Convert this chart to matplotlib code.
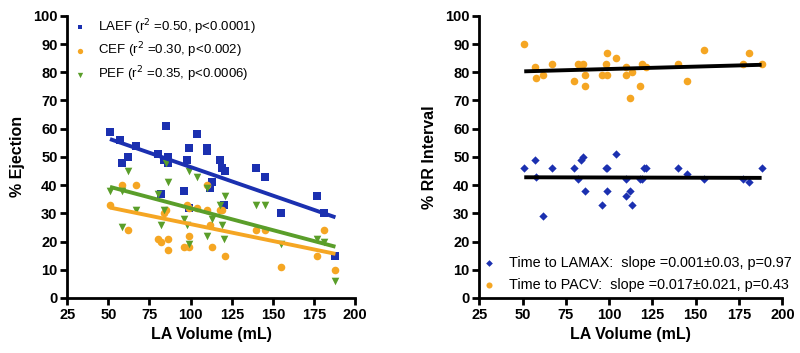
import numpy as np
import matplotlib
matplotlib.use("Agg")
import matplotlib.pyplot as plt

plt.rcParams['font.family'] = ['Liberation Sans', 'DejaVu Sans']

# Left panel data
laef_x = [51, 57, 58, 62, 67, 80, 85, 84, 86, 86, 98, 99, 104, 110, 110, 118, 119, 121, 140, 145,
          82, 96, 99, 113, 112, 120, 155, 177, 181, 188]
laef_y = [59, 56, 48, 50, 54, 51, 61, 49, 50, 48, 49, 53, 58, 53, 52, 49, 46, 45, 46, 43,
          37, 38, 32, 41, 39, 33, 30, 36, 30, 15]
cef_x = [51, 58, 62, 67, 80, 82, 86, 86, 84, 85, 98, 99, 99, 96, 99, 104, 110, 110, 112, 113,
         118, 119, 121, 140, 145, 155, 177, 181, 188]
cef_y = [33, 40, 24, 40, 21, 20, 21, 17, 30, 31, 33, 32, 22, 18, 18, 32, 31, 40, 26, 18,
         31, 31, 15, 24, 24, 11, 15, 24, 10]
pef_x = [51, 58, 62, 67, 58, 80, 82, 84, 85, 86, 96, 98, 99, 99, 104, 110, 110, 113, 118, 119,
         120, 121, 140, 145, 155, 177, 181, 188]
pef_y = [38, 38, 45, 31, 25, 37, 26, 31, 48, 41, 28, 26, 45, 19, 43, 39, 22, 28, 33, 26,
         21, 36, 33, 33, 19, 21, 20, 6]

# Right panel data
lamax_x = [51, 57, 58, 67, 80, 82, 84, 85, 86, 96, 98, 99, 99, 104, 110, 110, 112, 113, 62,
           118, 119, 120, 121, 140, 145, 155, 177, 181, 188]
lamax_y = [46, 49, 43, 46, 46, 42, 49, 50, 38, 33, 46, 46, 38, 51, 42, 36, 38, 33, 29,
           42, 42, 46, 46, 46, 44, 42, 42, 41, 46]
pacv_x = [51, 57, 58, 62, 67, 80, 82, 85, 83.5, 86, 86, 96, 98, 99, 99, 104, 110, 110, 112, 113,
          118, 119, 121, 140, 145, 155, 177, 181, 188]
pacv_y = [90, 82, 78, 79, 83, 77, 83, 83, 82, 79, 75, 79, 83, 87, 79, 85, 82, 79, 71, 80,
          75, 83, 82, 83, 77, 88, 83, 87, 83]

laef_label = r"LAEF (r$^2$ =0.50, p<0.0001)"
cef_label = r"CEF (r$^2$ =0.30, p<0.002)"
pef_label = r"PEF (r$^2$ =0.35, p<0.0006)"
lamax_label = "Time to LAMAX:  slope =0.001±0.03, p=0.97"
pacv_label = "Time to PACV:  slope =0.017±0.021, p=0.43"

BLUE = "#1b30b0"
ORANGE = "#f5a623"
GREEN = "#5a9e2a"

fig = plt.figure(figsize=(8, 3.53), dpi=100)
ax1 = fig.add_axes([0.084, 0.156, 0.36, 0.799])
ax2 = fig.add_axes([0.599, 0.156, 0.379, 0.799])

def fit_line(ax, x, y, color):
    x = np.asarray(x, float); y = np.asarray(y, float)
    m, b = np.polyfit(x, y, 1)
    xs = np.array([x.min(), x.max()])
    ax.plot(xs, m * xs + b, color=color, lw=2.8, solid_capstyle='butt', zorder=3)

ax1.scatter(laef_x, laef_y, marker='s', s=26, color=BLUE, label=laef_label, zorder=2, linewidths=0)
ax1.scatter(cef_x, cef_y, marker='o', s=30, color=ORANGE, label=cef_label, zorder=2, linewidths=0)
ax1.scatter(pef_x, pef_y, marker='v', s=30, color=GREEN, label=pef_label, zorder=2, linewidths=0)
fit_line(ax1, laef_x, laef_y, BLUE)
fit_line(ax1, cef_x, cef_y, ORANGE)
fit_line(ax1, pef_x, pef_y, GREEN)

ax2.scatter(lamax_x, lamax_y, marker='D', s=18, color=BLUE, label=lamax_label, zorder=2, linewidths=0)
ax2.scatter(pacv_x, pacv_y, marker='o', s=30, color=ORANGE, label=pacv_label, zorder=2, linewidths=0)
fit_line(ax2, lamax_x, lamax_y, 'black')
fit_line(ax2, pacv_x, pacv_y, 'black')

for ax in (ax1, ax2):
    ax.set_xlim(25, 200)
    ax.set_ylim(0, 100)
    ax.set_xticks(np.arange(25, 201, 25))
    ax.set_yticks(np.arange(0, 101, 10))
    for s in ('top', 'right'):
        ax.spines[s].set_visible(False)
    for s in ('left', 'bottom'):
        ax.spines[s].set_linewidth(2)
    ax.tick_params(width=2, length=5, direction='out', labelsize=10.5, pad=2)
    for lab in ax.get_xticklabels() + ax.get_yticklabels():
        lab.set_fontweight('bold')
    ax.set_xlabel("LA Volume (mL)", fontsize=11.5, fontweight='bold', labelpad=4)

ax1.set_ylabel("% Ejection", fontsize=11.5, fontweight='bold', labelpad=6)
ax2.set_ylabel("% RR Interval", fontsize=11.5, fontweight='bold', labelpad=6)

ax1.legend(loc='upper left', frameon=False, fontsize=9.5, markerscale=0.7,
           handlelength=1.0, handletextpad=0.8, labelspacing=0.32,
           borderaxespad=0, borderpad=0, bbox_to_anchor=(0.023, 0.996))
ax2.legend(loc='lower left', frameon=False, fontsize=10.4, markerscale=0.8,
           handlelength=1.0, handletextpad=0.82, labelspacing=0.6,
           borderaxespad=0, borderpad=0, bbox_to_anchor=(0.01, 0.02))

fig.savefig("out.png", dpi=100)
